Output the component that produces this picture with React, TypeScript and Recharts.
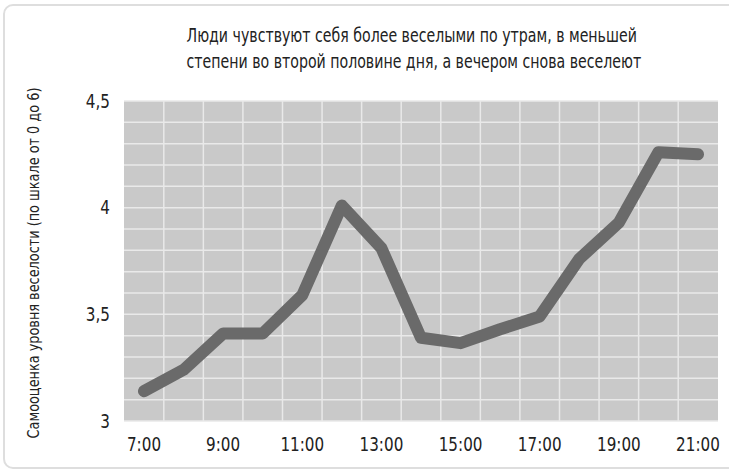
import { LineChart, Line, XAxis, YAxis, CartesianGrid } from "recharts";

const times = ["7:00", "8:00", "9:00", "10:00", "11:00", "12:00", "13:00", "14:00", "15:00", "16:00", "17:00", "18:00", "19:00", "20:00", "21:00"];
const mood = [3.14, 3.24, 3.41, 3.41, 3.59, 4.01, 3.81, 3.39, 3.365, 3.43, 3.49, 3.76, 3.93, 4.26, 4.25];
const yTicks = [3, 3.1, 3.2, 3.3, 3.4, 3.5, 3.6, 3.7, 3.8, 3.9, 4, 4.1, 4.2, 4.3, 4.4, 4.5];

const title = ["Люди чувствуют себя более веселыми по утрам, в меньшей", "степени во второй половине дня, а вечером снова веселеют"];
const yLabel = "Самооценка уровня веселости (по шкале от 0 до 6)";

const data = times.map((t, i) => ({ time: t, value: mood[i] }));

const FONT = "'DejaVu Sans', sans-serif";
const SQUEEZE = 0.8; // no condensed font installed, so text is narrowed by hand
const PAD_X = 20;
const INK = "#222";

const fmtY = (v: number) =>
  Math.abs(v * 2 - Math.round(v * 2)) < 1e-6 ? String(v).replace(".", ",") : "";

// vertical grid lines sit halfway between the hour points
const verticalLines = ({ offset }: any) => {
  const step = (offset.width - 2 * PAD_X) / (times.length - 1);
  const xs: number[] = [];
  for (let i = 0; i < times.length - 1; i++) xs.push(offset.left + PAD_X + step * (i + 0.5));
  return xs;
};

const XTick = ({ x, y, payload }: any) => (
  <text transform={`translate(${x},${y}) scale(${SQUEEZE},1)`} textAnchor="middle" dy="0.71em" fill={INK} fontSize={19} fontFamily={FONT}>
    {payload.value}
  </text>
);

const YTick = ({ x, y, payload }: any) => (
  <text transform={`translate(${x},${y}) scale(${SQUEEZE},1)`} textAnchor="end" dy="0.355em" fill={INK} fontSize={19} fontFamily={FONT}>
    {fmtY(payload.value)}
  </text>
);

const YTitle = ({ viewBox }: any) => {
  const cx = viewBox.x + 33;
  const cy = viewBox.y + viewBox.height / 2 + 2;
  return (
    <text transform={`translate(${cx},${cy}) rotate(-90) scale(0.78,1)`} textAnchor="middle" dy="0.355em" fill={INK} fontSize={16.5} fontFamily={FONT}>
      {yLabel}
    </text>
  );
};

export default function App() {
  return (
    <div style={{ position: "absolute", left: 0, top: 0, width: 729, height: 470, overflow: "hidden", background: "#fff", fontFamily: FONT }}>
      <div style={{ position: "absolute", left: 3, top: 4, width: 740, height: 461, border: "2px solid #dedede", borderRadius: 10 }} />
      <div style={{ position: "absolute", left: 110, top: 22, width: 600, textAlign: "center", fontSize: 19, lineHeight: "26px", color: INK, transform: "scaleX(0.745)", transformOrigin: "50% 0", whiteSpace: "nowrap" }}>
        {title.map((l) => (
          <div key={l}>{l}</div>
        ))}
      </div>
      <LineChart width={729} height={470} data={data} margin={{ top: 101, right: 11, bottom: 19, left: 0 }} style={{ position: "absolute", left: 0, top: 0 }}>
        <CartesianGrid fill="#c9c9c9" stroke="#e9e9e9" strokeWidth={1.5} verticalCoordinatesGenerator={verticalLines} />
        <XAxis
          dataKey="time"
          interval={1}
          padding={{ left: PAD_X, right: PAD_X }}
          axisLine={false}
          tickLine={false}
          tickSize={0}
          tickMargin={17}
          height={30}
          tick={XTick}
        />
        <YAxis
          domain={[3, 4.5]}
          ticks={yTicks}
          interval={0}
          axisLine={false}
          tickLine={false}
          tickSize={0}
          tickMargin={14}
          width={124}
          tick={YTick}
          label={{ content: YTitle }}
        />
        <Line
          type="linear"
          dataKey="value"
          stroke="#6a6a6a"
          strokeWidth={12}
          strokeLinejoin="round"
          strokeLinecap="round"
          dot={false}
          activeDot={false}
          isAnimationActive={false}
        />
      </LineChart>
    </div>
  );
}
